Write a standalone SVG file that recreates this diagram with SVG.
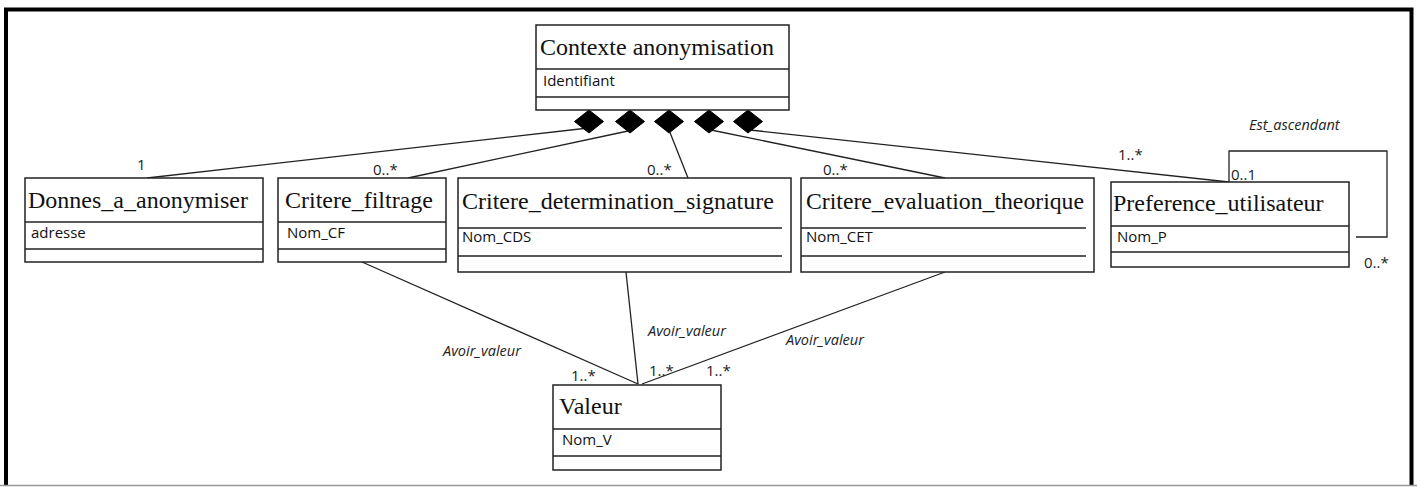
<svg xmlns="http://www.w3.org/2000/svg" width="1417" height="487" viewBox="0 0 1417 487">
<style>
.box{fill:#fff;stroke:#222;stroke-width:1.5}
.sep{stroke:#222;stroke-width:1.3}
.title{font-family:"Liberation Serif","Times New Roman",serif;font-size:24px;fill:#111}
.attr{font-family:"Open Sans","Liberation Sans",sans-serif;font-size:15px;fill:#111}
.mult{font-family:"Open Sans","Liberation Sans",sans-serif;font-size:15px;fill:#222}
.lbl{font-family:"Open Sans","Liberation Sans",sans-serif;font-size:14.5px;font-style:italic;fill:#222}
.conn{stroke:#222;stroke-width:1.3;fill:none}
.dia{fill:#000;stroke:#000;stroke-width:1}
</style>
<rect width="1417" height="487" fill="#fff"/>
<path d="M6,486 V9.5 H1411.5 V486" fill="none" stroke="#000" stroke-width="4"/>
<line x1="0" y1="485.5" x2="1417" y2="485.5" stroke="#999" stroke-width="1.5"/>

<g id="connectors">
<line class="conn" x1="147" y1="178" x2="584" y2="128.5"/>
<line class="conn" x1="408" y1="178" x2="628" y2="131"/>
<line class="conn" x1="688" y1="178" x2="669" y2="130"/>
<line class="conn" x1="945" y1="178" x2="711" y2="130"/>
<line class="conn" x1="1229" y1="182" x2="750" y2="130"/>
<polyline class="conn" points="1229,182 1229,151 1387,151 1387,237 1356,237"/>
<line class="conn" x1="362" y1="262" x2="638" y2="384"/>
<line class="conn" x1="626" y1="272" x2="638" y2="384"/>
<line class="conn" x1="945" y1="272" x2="642" y2="384"/>
<polygon class="dia" points="589,110 603.5,121.5 589,133 574.5,121.5"/>
<polygon class="dia" points="630,110 644.5,121.5 630,133 615.5,121.5"/>
<polygon class="dia" points="669,110 683.5,121.5 669,133 654.5,121.5"/>
<polygon class="dia" points="709,110 723.5,121.5 709,133 694.5,121.5"/>
<polygon class="dia" points="748,110 762.5,121.5 748,133 733.5,121.5"/>
<text class="mult" x="137" y="170">1</text>
<text class="mult" x="373" y="175">0..*</text>
<text class="mult" x="647" y="175">0..*</text>
<text class="mult" x="823" y="175">0..*</text>
<text class="mult" x="1118" y="160">1..*</text>
<text class="mult" x="1231" y="180">0..1</text>
<text class="mult" x="1364" y="268">0..*</text>
<text class="lbl" x="1249" y="130">Est_ascendant</text>
<text class="lbl" x="443" y="356">Avoir_valeur</text>
<text class="lbl" x="648" y="336">Avoir_valeur</text>
<text class="lbl" x="786" y="345">Avoir_valeur</text>
<text class="mult" x="571" y="381">1..*</text>
<text class="mult" x="649" y="376">1..*</text>
<text class="mult" x="706" y="376">1..*</text>
</g>

<g id="contexte">
<rect class="box" x="536" y="25" width="253" height="85"/>
<line class="sep" x1="536" y1="69" x2="789" y2="69"/>
<line class="sep" x1="536" y1="97" x2="789" y2="97"/>
<text class="title" x="540" y="55">Contexte anonymisation</text>
<text class="attr" x="543" y="86">Identifiant</text>
</g>

<g id="donnes">
<rect class="box" x="25" y="178" width="238" height="84"/>
<line class="sep" x1="25" y1="222" x2="263" y2="222"/>
<line class="sep" x1="25" y1="249" x2="263" y2="249"/>
<text class="title" x="28" y="208">Donnes_a_anonymiser</text>
<text class="attr" x="31" y="238">adresse</text>
</g>

<g id="filtrage">
<rect class="box" x="278" y="178" width="168" height="84"/>
<line class="sep" x1="278" y1="222" x2="446" y2="222"/>
<line class="sep" x1="278" y1="249" x2="446" y2="249"/>
<text class="title" x="285" y="208">Critere_filtrage</text>
<text class="attr" x="287" y="238">Nom_CF</text>
</g>

<g id="signature">
<rect class="box" x="458" y="178" width="333" height="94"/>
<line class="sep" x1="458" y1="228" x2="782" y2="228"/>
<line class="sep" x1="458" y1="256" x2="782" y2="256"/>
<text class="title" x="462" y="209">Critere_determination_signature</text>
<text class="attr" x="462" y="242">Nom_CDS</text>
</g>

<g id="evaluation">
<rect class="box" x="801" y="178" width="293" height="94"/>
<line class="sep" x1="801" y1="228" x2="1086" y2="228"/>
<line class="sep" x1="801" y1="256" x2="1086" y2="256"/>
<text class="title" x="806" y="209" textLength="278" lengthAdjust="spacingAndGlyphs">Critere_evaluation_theorique</text>
<text class="attr" x="806" y="242">Nom_CET</text>
</g>

<g id="preference">
<rect class="box" x="1111" y="182" width="238" height="85"/>
<line class="sep" x1="1111" y1="226" x2="1349" y2="226"/>
<line class="sep" x1="1111" y1="252" x2="1349" y2="252"/>
<text class="title" x="1113" y="211">Preference_utilisateur</text>
<text class="attr" x="1117" y="242">Nom_P</text>
</g>

<g id="valeur">
<rect class="box" x="553" y="385" width="168" height="85"/>
<line class="sep" x1="553" y1="429" x2="721" y2="429"/>
<line class="sep" x1="553" y1="456" x2="721" y2="456"/>
<text class="title" x="559" y="414">Valeur</text>
<text class="attr" x="562" y="445">Nom_V</text>
</g>
</svg>
